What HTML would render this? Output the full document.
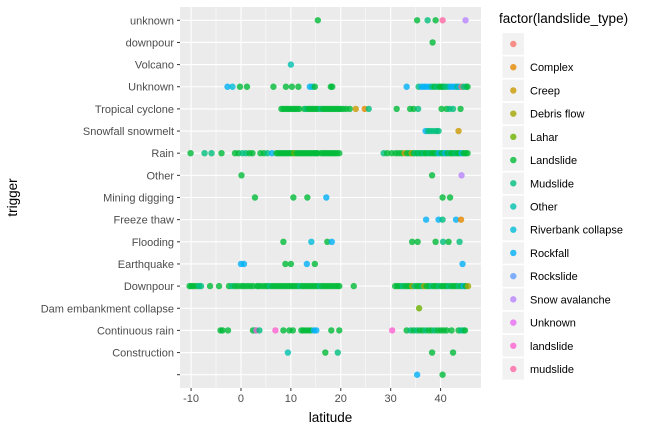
<!DOCTYPE html>
<html><head><meta charset="utf-8"><style>
body{margin:0;background:#fff;}
svg{display:block;font-family:"Liberation Sans",sans-serif;}
</style></head><body>
<svg id="chart" width="659" height="428" viewBox="0 0 659 428" xmlns="http://www.w3.org/2000/svg"></svg>
<script>
const triggers=["","Construction","Continuous rain","Dam embankment collapse","Downpour","Earthquake","Flooding","Freeze thaw","Mining digging","Other","Rain","Snowfall snowmelt","Tropical cyclone","Unknown","Volcano","downpour","unknown"];
const typeNames=["","Complex","Creep","Debris flow","Lahar","Landslide","Mudslide","Other","Riverbank collapse","Rockfall","Rockslide","Snow avalanche","Unknown","landslide","mudslide"];
const typeColors=["#F8766D","#E58700","#C99800","#A3A500","#6BB100","#00BA38","#00BF7D","#00C0AF","#00BCD8","#00B0F6","#619CFF","#B983FF","#E76BF3","#FD61D1","#FF67A4"];
const xTicks=[-10,0,10,20,30,40];
// points: [latitude, typeIndex] per trigger
const ptsBlank=[[35.3,9],[40.4,5]];
const ptsConstruction=[[9.4,7],[16.9,5],[19.4,6],[38.3,5],[42.5,5]];
const ptsContinuous=[[-4.1,5],[-3.7,5],[-2.6,5],[2.4,5],[2.9,6],[3.1,13],[3.7,6],[6.9,13],[8.5,5],[9.7,5],[10.4,5],[12.1,5],[12.5,5],[13.0,5],[13.5,5],[14.0,5],[14.6,9],[15.1,9],[18.1,5],[19.7,5],[30.3,13],[33.2,5],[34.0,6],[34.6,5],[35.2,6],[35.8,5],[36.4,5],[37.0,6],[37.6,5],[38.2,5],[38.8,6],[39.4,5],[40.0,5],[40.6,5],[41.2,5],[42.2,5],[43.6,5],[44.1,6],[44.6,6],[44.9,5]];
const ptsDam=[[35.7,4]];
const ptsDownpour=[[-10.3,5],[-9.9,5],[-9.5,5],[-8.9,5],[-8.4,6],[-8.0,6],[-6.2,5],[-4.4,5],[-2.4,5],[-1.8,6],[-1.2,5],[-0.6,5],[0.1,5],[0.6,5],[1.2,5],[1.8,5],[2.4,5],[3.2,5],[3.6,5],[4.2,5],[4.8,5],[5.3,5],[5.8,6],[6.3,5],[6.8,5],[7.3,5],[7.8,5],[8.3,5],[8.8,5],[9.3,5],[9.8,5],[10.3,5],[10.8,5],[11.3,5],[11.8,6],[12.3,5],[12.8,5],[13.3,5],[13.8,5],[14.3,5],[14.8,5],[15.3,5],[15.8,6],[16.3,5],[16.8,5],[17.3,5],[17.8,5],[18.3,5],[18.8,5],[19.3,5],[19.7,5],[22.6,5],[30.9,5],[31.4,5],[31.9,5],[32.4,6],[32.9,5],[33.4,5],[33.9,5],[34.3,3],[34.8,6],[35.3,5],[35.8,5],[36.3,6],[36.7,3],[37.2,5],[37.7,5],[38.2,6],[38.7,5],[39.2,5],[39.7,6],[40.2,5],[40.7,5],[41.2,5],[41.7,6],[42.2,5],[42.7,5],[43.2,5],[43.7,6],[44.2,5],[44.6,9],[45.0,5],[45.5,3]];
const ptsEarthquake=[[0.0,9],[0.6,9],[8.9,5],[10.0,5],[13.2,9],[14.8,5],[44.4,9]];
const ptsFlooding=[[8.5,5],[14.1,8],[17.3,5],[18.2,9],[34.3,5],[35.4,5],[39.0,5],[40.5,6],[41.6,5],[43.8,6]];
const ptsFreeze=[[37.1,9],[39.6,9],[40.4,6],[43.1,9],[44.1,1]];
const ptsMining=[[2.8,5],[10.5,5],[13.3,5],[17.1,9],[40.4,5],[41.9,5]];
const ptsOther=[[0.1,5],[38.3,5],[44.2,11]];
const ptsRain=[[-10.1,5],[-7.3,6],[-5.9,6],[-3.9,5],[-1.2,5],[-0.5,5],[0.3,6],[1.0,6],[1.7,5],[2.3,5],[3.9,5],[4.6,5],[5.3,6],[6.2,9],[7.1,5],[7.5,5],[7.9,5],[8.3,5],[8.7,5],[9.1,5],[9.5,5],[9.9,5],[10.3,5],[10.7,4],[11.1,5],[11.5,5],[11.9,5],[12.3,5],[12.7,5],[13.1,5],[13.5,5],[13.9,5],[14.3,5],[14.7,5],[15.1,5],[15.3,5],[16.0,5],[16.4,5],[16.8,5],[17.2,5],[17.6,5],[18.0,5],[18.4,5],[18.8,5],[19.2,5],[19.7,5],[28.6,6],[29.3,5],[30.2,5],[31.0,5],[31.6,5],[32.2,5],[32.8,2],[33.3,5],[33.8,5],[34.2,2],[34.6,5],[35.0,6],[35.4,5],[35.8,6],[36.2,5],[36.6,6],[37.0,5],[37.4,5],[37.8,6],[38.2,5],[38.6,5],[39.0,5],[39.4,6],[39.8,9],[40.2,5],[40.6,6],[41.0,9],[41.4,5],[41.8,6],[42.2,5],[42.6,5],[43.0,6],[43.4,5],[43.8,5],[44.2,9],[44.6,5],[45.0,5],[45.4,5]];
const ptsSnowfall=[[37.0,9],[37.5,6],[38.0,6],[38.6,6],[39.2,6],[39.6,6],[43.6,2]];
const ptsTropical=[[8.1,5],[8.5,5],[8.9,5],[9.3,5],[9.7,5],[10.1,5],[10.5,5],[10.9,5],[11.3,5],[11.7,5],[12.7,5],[13.1,6],[13.5,5],[13.9,5],[14.3,5],[14.7,5],[15.1,5],[15.5,5],[16.0,6],[16.4,5],[16.8,5],[17.2,5],[17.6,5],[18.0,5],[18.4,5],[18.8,5],[19.2,5],[19.6,5],[20.0,5],[20.5,5],[21.1,5],[21.8,5],[23.0,2],[24.8,1],[25.6,6],[31.2,5],[33.9,5],[34.6,5],[35.5,6],[40.2,5],[41.2,5],[41.8,6],[42.5,6],[44.0,5]];
const ptsUnknownCap=[[-2.7,9],[-1.7,8],[-0.2,5],[1.2,5],[6.5,5],[9.0,5],[10.2,5],[11.5,5],[13.8,9],[14.3,8],[14.8,5],[18.0,5],[18.3,5],[33.2,9],[35.6,6],[36.2,9],[36.7,9],[37.2,9],[37.8,9],[38.3,6],[38.8,5],[39.3,6],[39.8,5],[40.2,5],[40.6,5],[41.0,6],[41.5,6],[42.0,9],[42.5,9],[43.0,9],[43.4,6],[43.8,9],[44.2,0],[44.6,6],[45.1,6],[45.4,5]];
const ptsVolcano=[[10.0,7]];
const ptsDownpourLc=[[38.4,5]];
const ptsUnknownLc=[[15.4,5],[35.3,5],[37.4,6],[39.0,5],[40.4,14],[45.0,11]];
const allPts=[ptsBlank,ptsConstruction,ptsContinuous,ptsDam,ptsDownpour,ptsEarthquake,ptsFlooding,ptsFreeze,ptsMining,ptsOther,ptsRain,ptsSnowfall,ptsTropical,ptsUnknownCap,ptsVolcano,ptsDownpourLc,ptsUnknownLc];

const NS="http://www.w3.org/2000/svg";
const svg=document.getElementById('chart');
const P={l:180,r:481,t:7,b:388};
const xMin=-12.22,xMax=48.1;
const xScale=v=>P.l+(v-xMin)/(xMax-xMin)*(P.r-P.l);
const n=triggers.length;
const step=(P.b-P.t)/(n-1+1.2);
const yScale=i=>P.b-step*0.6-i*step;
function mk(tag,attrs,parent){const e=document.createElementNS(NS,tag);for(const k in attrs)e.setAttribute(k,attrs[k]);(parent||svg).appendChild(e);return e;}

const panel=mk('rect',{x:P.l,y:P.t,width:P.r-P.l,height:P.b-P.t,fill:'#EBEBEB'});


const grid=mk('g',{});


for(let i=0;i<xTicks.length-1;i++){const m=(xTicks[i]+xTicks[i+1])/2;mk('line',{x1:xScale(m),x2:xScale(m),y1:P.t,y2:P.b,stroke:'#fff','stroke-width':0.5},grid);}
for(const t of xTicks){mk('line',{x1:xScale(t),x2:xScale(t),y1:P.t,y2:P.b,stroke:'#fff','stroke-width':1.1},grid);}
for(let i=0;i<n;i++){mk('line',{x1:P.l,x2:P.r,y1:yScale(i),y2:yScale(i),stroke:'#fff','stroke-width':1.1},grid);}

const pts=mk('g',{'fill-opacity':0.8});


allPts.forEach((arr,i)=>{arr.forEach(p=>{const c=mk('circle',{cx:xScale(p[0]),cy:yScale(i),r:3.2,fill:typeColors[p[1]]},pts);

});});

const yax=mk('g',{});


triggers.forEach((t,i)=>{mk('line',{x1:P.l-3,x2:P.l,y1:yScale(i),y2:yScale(i),stroke:'#333','stroke-width':1},yax);
const tx=mk('text',{x:P.l-6,y:yScale(i)+4,'text-anchor':'end','font-size':11,fill:'#4D4D4D'},yax);tx.textContent=t;

});
const xax=mk('g',{});


xTicks.forEach(t=>{mk('line',{x1:xScale(t),x2:xScale(t),y1:P.b,y2:P.b+3,stroke:'#333','stroke-width':1},xax);
const tx=mk('text',{x:xScale(t),y:P.b+14,'text-anchor':'middle','font-size':11,fill:'#4D4D4D'},xax);tx.textContent=t;

});
const xt=mk('text',{x:(P.l+P.r)/2,y:422,'text-anchor':'middle','font-size':13.5,fill:'#000'});xt.textContent='latitude';


const yt=mk('text',{x:0,y:0,'text-anchor':'middle','font-size':13.5,fill:'#000',transform:`translate(17,${(P.t+P.b)/2}) rotate(-90)`});yt.textContent='trigger';



const leg=mk('g',{});


const lt=mk('text',{x:499,y:23,'font-size':13.5,fill:'#000'},leg);lt.textContent='factor(landslide_type)';


const lstep=(369-44)/14;
typeNames.forEach((nm,i)=>{const cy=44+i*lstep;
const g=mk('g',{},leg);


mk('rect',{x:502,y:cy-11.3,width:22.5,height:22.5,fill:'#F2F2F2',stroke:'#fff','stroke-width':1},g);
mk('circle',{cx:513.3,cy:cy,r:3.2,fill:typeColors[i],'fill-opacity':0.8},g);
const tx=mk('text',{x:530,y:cy+4,'font-size':11,fill:'#000'},g);tx.textContent=nm;});
</script>
</body></html>
